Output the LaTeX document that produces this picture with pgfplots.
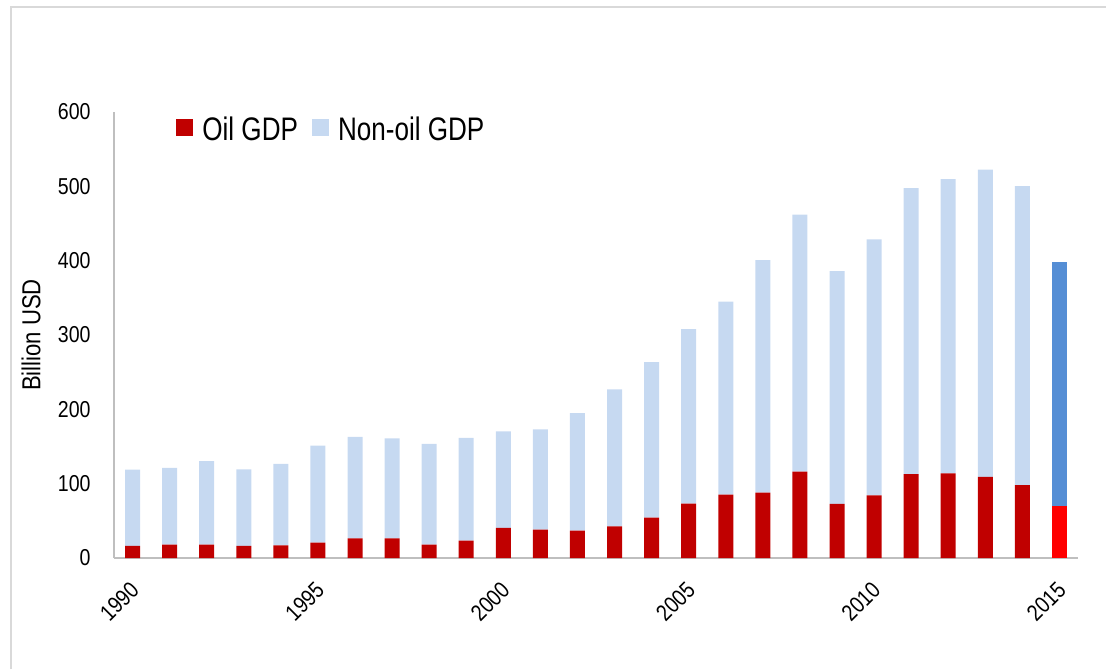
\documentclass[border=0pt]{standalone}
\usepackage{fontspec}
\setmainfont{Liberation Sans}[FakeStretch=0.85]
\newfontfamily\legfont{Liberation Sans}[FakeStretch=0.8]
\usepackage{pgfplots}
\pgfplotsset{compat=1.18}
\usepackage{pgfplotstable}
\definecolor{oilred}{HTML}{C00000}
\definecolor{nonoil}{HTML}{C6D9F1}
\definecolor{oilredf}{HTML}{FF0000}
\definecolor{nonoilf}{HTML}{558ED5}
\definecolor{axisgray}{HTML}{BFBFBF}
\definecolor{framegray}{HTML}{D9D9D9}
\pgfplotsset{sqleg/.style={legend image code/.code={\fill[##1] (0pt,-3pt) rectangle (8.5pt,5.5pt);}}}

\pgfplotstableread{
year oil nonoil oilf nonoilf
1990 16.2 102.8 0 0
1991 17.9 103.4 0 0
1992 17.9 112.3 0 0
1993 16.2 103.2 0 0
1994 17.0 109.7 0 0
1995 20.6 130.7 0 0
1996 26.4 136.6 0 0
1997 26.4 134.4 0 0
1998 17.9 135.7 0 0
1999 23.3 138.4 0 0
2000 40.4 129.8 0 0
2001 38.1 134.8 0 0
2002 36.8 158.1 0 0
2003 42.6 184.2 0 0
2004 54.3 209.3 0 0
2005 73.2 234.8 0 0
2006 85.3 259.7 0 0
2007 88.0 312.7 0 0
2008 116.3 345.7 0 0
2009 72.7 313.1 0 0
2010 84.4 344.1 0 0
2011 112.7 385.0 0 0
2012 114.0 395.8 0 0
2013 109.0 413.4 0 0
2014 97.9 402.5 0 0
2015 0 0 70.5 327.5
}\gdp

\begin{document}
\begin{tikzpicture}
\path[use as bounding box] (0,0) rectangle (553pt,334.5pt);
\draw[framegray, line width=1pt] (5.5pt,0) -- (5.5pt,331pt) -- (553pt,331pt);
\begin{axis}[
  at={(57pt,55.5pt)}, anchor=south west,
  scale only axis, width=482pt, height=223pt,
  ybar stacked, bar width=7.5pt,
  xmin=1989.5, xmax=2015.5, ymin=0, ymax=600,
  axis x line*=bottom, axis y line*=left,
  axis line style={axisgray, line width=1pt, -},
  xtick={1990,1995,2000,2005,2010,2015}, ytick={0,100,...,600},
  major tick length=0pt,
  /pgf/number format/assume math mode=true,
  x tick label style={/pgf/number format/1000 sep={}, font=\fontsize{11.5}{13}\selectfont,
    inner sep=0pt, xshift=-1.8pt, yshift=-11pt, rotate=45, anchor=north east},
  y tick label style={font=\fontsize{11.5}{13}\selectfont, inner sep=0pt, anchor=east, xshift=-11.5pt},
  ylabel={Billion USD},
  every axis y label/.style={at={(axis description cs:-0.0861,0.5)}, rotate=90, anchor=center, font=\fontsize{13}{15}\selectfont},
  legend style={at={(axis description cs:0.0643,1.0)}, anchor=north west, draw=none, fill=none,
    inner sep=0pt, font=\legfont\fontsize{16.3}{18}\selectfont,
    /tikz/every odd column/.append style={column sep=2.5pt},
    /tikz/every even column/.append style={column sep=5pt}},
  legend columns=2, legend cell align=left,
]
\addplot[fill=oilred, draw=none, sqleg] table[x=year, y=oil] {\gdp};
\addlegendentry{Oil GDP}
\addplot[fill=nonoil, draw=none, sqleg] table[x=year, y=nonoil] {\gdp};
\addlegendentry{Non-oil GDP}
\addplot[fill=oilredf, draw=none, forget plot] table[x=year, y=oilf] {\gdp};
\addplot[fill=nonoilf, draw=none, forget plot] table[x=year, y=nonoilf] {\gdp};
\end{axis}
\end{tikzpicture}
\end{document}
